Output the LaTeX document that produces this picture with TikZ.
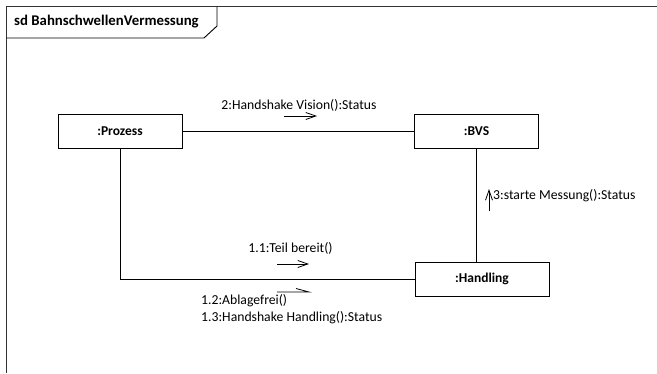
\documentclass[tikz,border=0pt]{standalone}
\usepackage{fontspec}
\setmainfont{Carlito}
\usetikzlibrary{arrows.meta,positioning}

\begin{document}
\begin{tikzpicture}[
    x=1pt, y=-1pt,
    obj/.style={draw, line width=0.9pt, minimum width=124pt, minimum height=34pt, inner sep=0pt, font=\bfseries\fontsize{13.5}{16}\selectfont},
    msg/.style={inner sep=0pt, font=\fontsize{13.7}{16}\selectfont},
    link/.style={line width=0.9pt},
    arr/.style={-{Straight Barb[length=10pt, width=7pt]}, line width=0.8pt},
]
    \useasboundingbox (0,0) rectangle (657,373);

    % Frame
    \draw[line width=1.4pt, draw=black!80] (657,6.5) -- (6.5,6.5) -- (6.5,373);
    \draw[line width=0.9pt] (6.5,38) -- (204,38) -- (217,26) -- (217,6.5);
    \node[anchor=west, inner sep=0pt, font=\bfseries\fontsize{14.8}{17}\selectfont] (title) at (14,22) {sd BahnschwellenVermessung};

    % Objects
    \node[obj] (prozess) at (120,131) {:Prozess};
    \node[obj] (bvs) at (476.5,131) {:BVS};
    \node[obj, minimum width=134pt] (handling) at (482,279) {:Handling};

    % Links
    \draw[link] (prozess) -- (bvs);
    \draw[link] (prozess.south) |- (handling.west);
    \draw[link] (bvs.south) -- (bvs.south |- handling.north);

    % Messages
    \node[msg] (m2) at (299,105) {2:Handshake Vision():Status};
    \coordinate (m2s) at (284,116);
    \coordinate (m2e) at (317,116);
    \node[msg] (m11) at (290.5,248) {1.1:Teil bereit()};
    \coordinate (m11s) at (277,264);
    \coordinate (m11e) at (309,264);
    \coordinate (m12s) at (277,292);
    \coordinate (m12e) at (309,292);
    \node[msg, anchor=west] (m12) at (201,301) {1.2:Ablagefrei()};
    \node[msg, anchor=west] (m13) at (201,318) {1.3:Handshake Handling():Status};
    \node[msg, anchor=west] (m3) at (493,196) {3:starte Messung():Status};
    \coordinate (m3s) at (489,211);
    \coordinate (m3e) at (489,189);

    % Arrows
    \draw[arr] (m2s) -- (m2e);
    \draw[arr] (m11s) -- (m11e);
    \draw[line width=0.8pt] (m12s) -- (m12e) -- ++(-13,-3.5);
    \draw[arr] (m3s) -- (m3e);
\end{tikzpicture}
\end{document}
